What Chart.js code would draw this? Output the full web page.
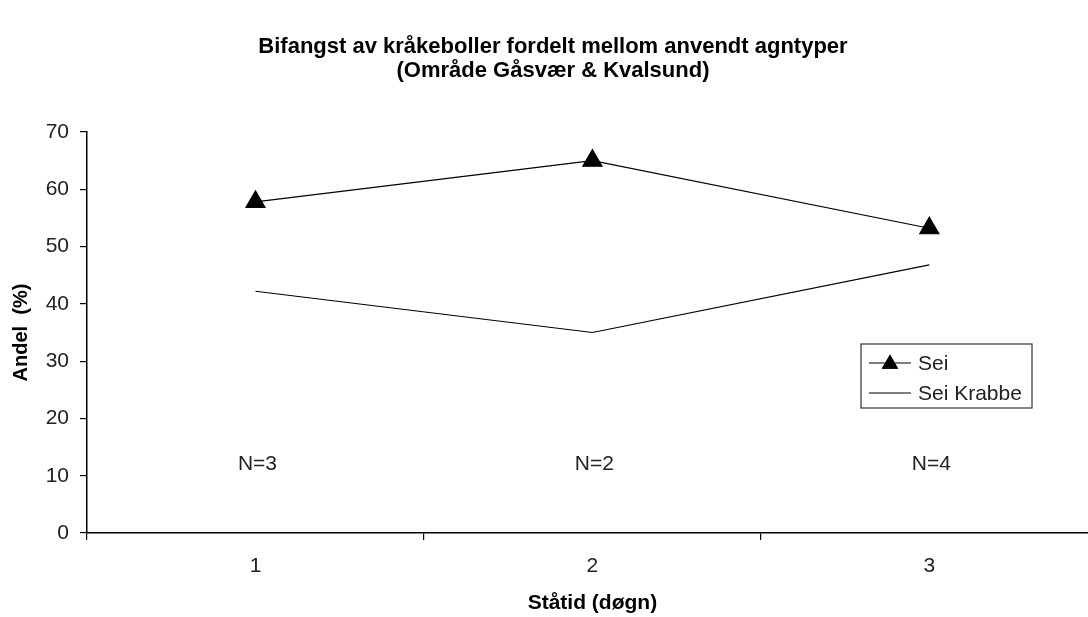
<!DOCTYPE html>
<html>
<head>
<meta charset="utf-8">
<script src="https://cdn.jsdelivr.net/npm/chart.js@4/dist/chart.umd.min.js"></script>
<style>
  html, body { margin: 0; padding: 0; background: #fff; overflow: hidden; }
  #wrap { width: 1110px; height: 617px; }
  #chart { width: 1110px; height: 617px; }
</style>
</head>
<body>
<div id="wrap"><canvas id="chart" width="1110" height="617"></canvas></div>
<script>
// data
const categories = ['1', '2', '3'];
const seiValues = [57.8, 65.0, 53.2];
const seiKrabbeValues = [42.2, 35.0, 46.8];
const nLabels = ['N=3', 'N=2', 'N=4'];
const nLabelLevel = 12;
const yTicks = [0, 10, 20, 30, 40, 50, 60, 70];

const FONT = '"Liberation Sans", Arial, sans-serif';
const TEXT_COLOR = '#222';

// N= labels and the legend box inside the plot
const overlayPlugin = {
  id: 'overlay',
  afterDatasetsDraw(chart) {
    const ctx = chart.ctx;
    const xScale = chart.scales.x;
    const yScale = chart.scales.y;

    ctx.save();
    ctx.font = '21px ' + FONT;
    ctx.fillStyle = TEXT_COLOR;
    ctx.textAlign = 'center';
    ctx.textBaseline = 'middle';
    nLabels.forEach((label, i) => {
      ctx.fillText(label, xScale.getPixelForValue(i) + 2, yScale.getPixelForValue(nLabelLevel));
    });

    // legend
    const box = { left: 861, top: 344, right: 1032, bottom: 408 };
    ctx.strokeStyle = '#333';
    ctx.lineWidth = 1.2;
    ctx.strokeRect(box.left, box.top, box.right - box.left, box.bottom - box.top);

    const rows = [363, 393];
    chart.data.datasets.forEach((ds, i) => {
      const y = rows[i];
      ctx.strokeStyle = '#000';
      ctx.lineWidth = 1.2;
      ctx.beginPath();
      ctx.moveTo(869, y);
      ctx.lineTo(911, y);
      ctx.stroke();
      if (ds.pointRadius > 0) {
        Chart.helpers.drawPoint(ctx, { pointStyle: 'triangle', radius: 9.5, rotation: 0 }, 890, y + 1);
        ctx.fillStyle = '#000';
        ctx.fill();
      }
      ctx.fillStyle = TEXT_COLOR;
      ctx.textAlign = 'left';
      ctx.fillText(ds.label, 918, y + 1);
    });
    ctx.restore();
  }
};

const ctx = document.getElementById('chart');

new Chart(ctx, {
  type: 'line',
  data: {
    labels: categories,
    datasets: [
      {
        label: 'Sei',
        data: seiValues,
        borderColor: '#000',
        backgroundColor: '#000',
        borderWidth: 1.2,
        pointStyle: 'triangle',
        pointRadius: 11,
        pointBackgroundColor: '#000',
        pointBorderColor: '#000',
        tension: 0
      },
      {
        label: 'Sei Krabbe',
        data: seiKrabbeValues,
        borderColor: '#000',
        backgroundColor: '#000',
        borderWidth: 1.2,
        pointRadius: 0,
        tension: 0
      }
    ]
  },
  options: {
    responsive: false,
    animation: false,
    layout: { padding: { left: 0, right: 4, top: 0, bottom: 0 } },
    plugins: {
      legend: { display: false },
      tooltip: { enabled: false },
      title: {
        display: true,
        text: ['Bifangst av kråkeboller fordelt mellom anvendt agntyper', '(Område Gåsvær & Kvalsund)'],
        color: '#000',
        font: { family: FONT, size: 22, weight: 'bold', lineHeight: '24px' },
        padding: { top: 35, bottom: 49 }
      }
    },
    scales: {
      x: {
        type: 'category',
        offset: true,
        afterFit(scale) {
          scale.height = 84;
          scale.paddingLeft = 0;
          scale.paddingRight = 0;
        },
        grid: { offset: true, drawOnChartArea: false, drawTicks: true, tickLength: 7, color: '#000', lineWidth: 1.2 },
        border: { display: true, color: '#000', width: 1.5 },
        ticks: { color: TEXT_COLOR, font: { family: FONT, size: 21 }, padding: 14 },
        title: {
          display: true,
          text: 'Ståtid (døgn)',
          color: '#000',
          font: { family: FONT, size: 21, weight: 'bold' },
          padding: { top: 0, bottom: 1 }
        }
      },
      y: {
        min: 0,
        max: 70,
        afterFit(scale) { scale.width = 87; },
        afterBuildTicks(scale) { scale.ticks = yTicks.map(v => ({ value: v })); },
        grid: { drawOnChartArea: false, drawTicks: true, tickLength: 7, color: '#000', lineWidth: 1.2 },
        border: { display: true, color: '#000', width: 1.5 },
        ticks: { color: TEXT_COLOR, font: { family: FONT, size: 21 }, padding: 11 },
        title: {
          display: true,
          text: 'Andel  (%)',
          color: '#000',
          font: { family: FONT, size: 20, weight: 'bold' },
          padding: { top: 9, bottom: 0 }
        }
      }
    }
  },
  plugins: [overlayPlugin]
});
</script>
</body>
</html>
